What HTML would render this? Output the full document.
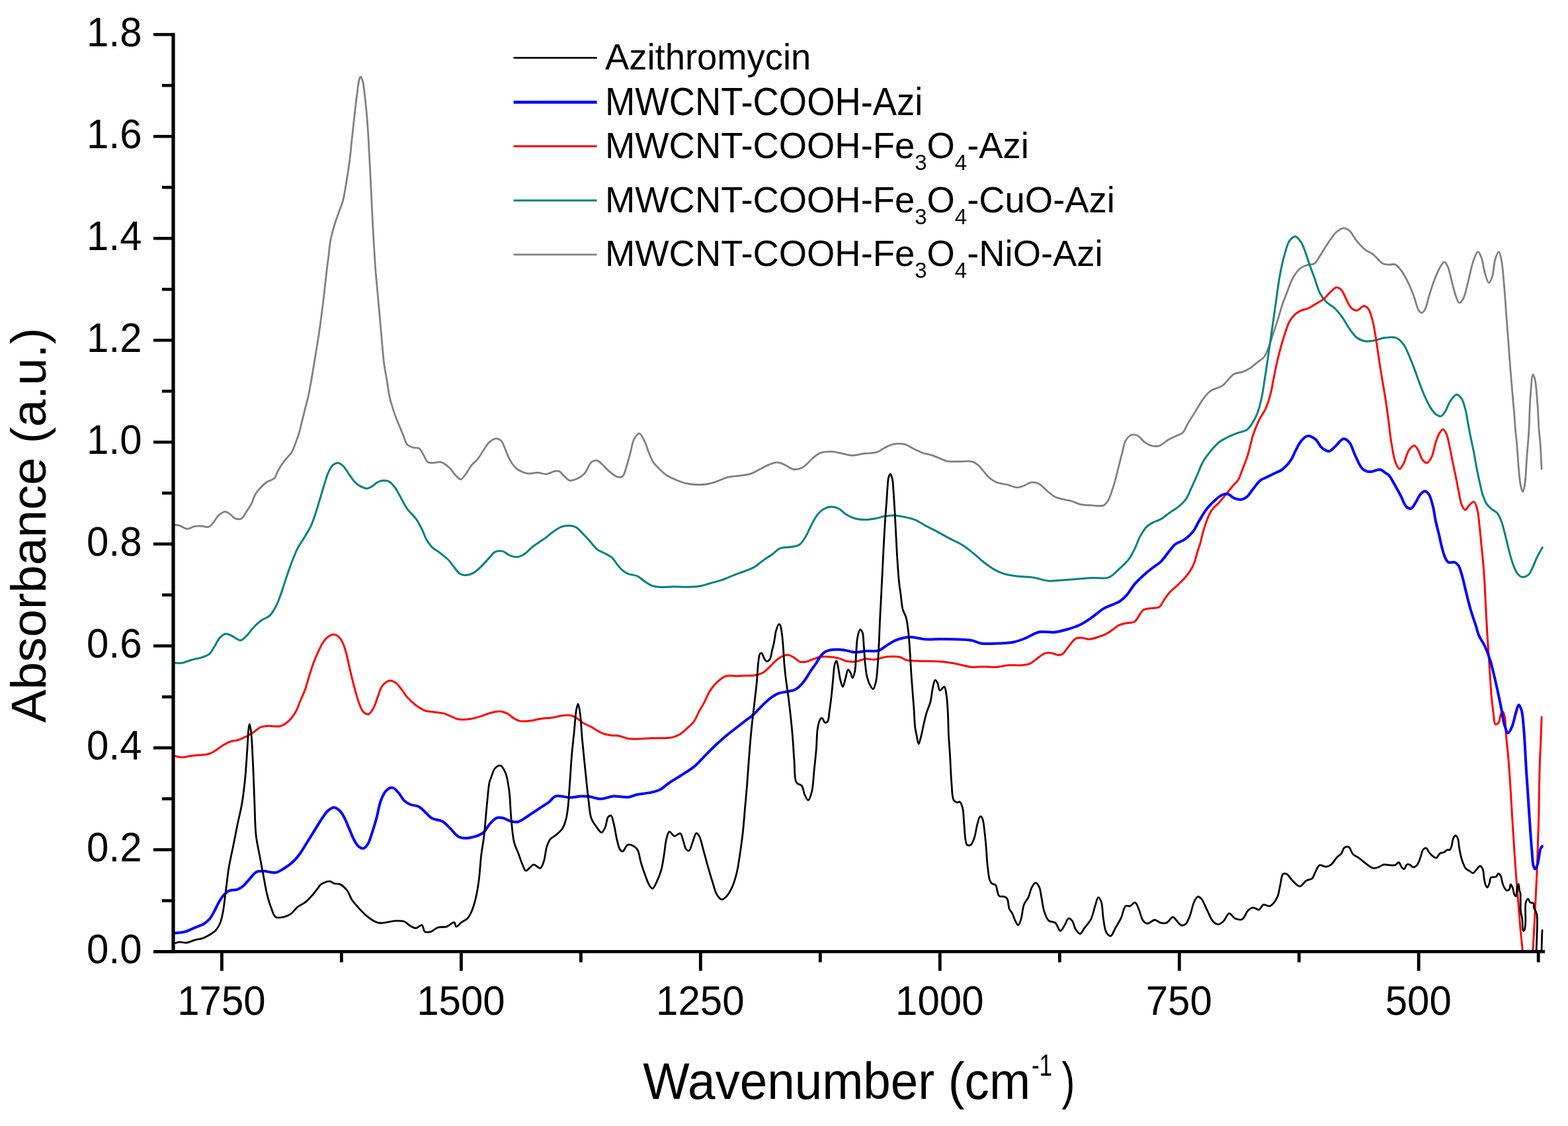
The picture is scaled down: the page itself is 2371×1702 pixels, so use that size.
<!DOCTYPE html>
<html><head><meta charset="utf-8"><title>FTIR spectra</title>
<style>
html,body{margin:0;padding:0;background:#fff;}
svg{display:block;}
text{font-family:"Liberation Sans",Arial,Helvetica,sans-serif;fill:#000;}
</style></head><body>
<svg width="2371" height="1702" viewBox="0 0 2371 1702">
<rect x="0" y="0" width="2371" height="1702" fill="#fff"/>
<defs><clipPath id="plot"><rect x="262.0" y="51.0" width="2074.0" height="1387.4"/></clipPath></defs>

<g clip-path="url(#plot)" fill="none" stroke-linejoin="round" stroke-linecap="round">
<path d="M263.2,793.2C265.8,793.6 268.2,793.5 271.0,794.3C274.7,795.3 279.0,799.2 283.1,799.4C287.1,799.6 291.3,796.0 295.3,795.4C299.0,794.8 302.8,795.2 306.3,795.4C309.4,795.6 312.6,797.3 315.2,796.5C317.7,795.8 319.6,793.4 321.8,791.0C324.7,787.9 327.3,781.8 330.7,778.8C333.7,776.2 337.5,773.3 340.6,773.3C343.4,773.3 345.9,776.0 348.4,777.7C351.1,779.5 353.3,782.9 356.1,783.9C358.8,784.8 362.3,785.2 364.9,783.9C368.0,782.3 370.2,777.0 372.7,773.3C375.3,769.4 378.2,765.4 380.4,761.1C382.6,756.7 383.6,751.5 386.0,747.3C388.4,743.2 391.7,739.4 394.8,736.2C397.6,733.3 400.3,730.7 403.6,728.5C407.0,726.3 411.8,725.9 414.7,723.0C417.9,719.8 418.8,714.1 421.3,709.7C423.9,705.2 427.0,700.7 430.2,696.4C433.6,691.9 438.4,687.8 441.2,683.2C443.8,679.0 445.0,674.5 446.8,669.9C448.7,665.0 450.7,659.8 452.3,654.4C454.0,648.7 455.2,642.6 456.7,636.7C458.2,630.8 459.6,624.9 461.1,619.0C462.6,613.1 464.2,607.5 465.6,601.3C467.2,594.4 468.6,586.9 470.0,579.2C471.5,570.8 472.9,561.5 474.4,552.7C475.9,543.8 477.3,535.1 478.8,526.1C480.3,516.7 481.9,507.3 483.3,497.4C484.8,486.7 486.3,475.6 487.7,464.2C489.2,452.1 490.9,437.4 492.1,426.6C493.0,418.4 493.7,411.6 494.5,405.0C495.2,399.4 495.8,395.4 496.5,389.6C497.5,381.9 498.3,370.9 499.8,363.0C501.0,356.5 502.8,350.6 504.2,345.4C505.4,341.3 506.3,338.3 507.6,334.3C509.2,329.5 511.3,324.0 513.1,318.8C514.9,313.7 517.1,308.8 518.6,303.4C520.1,297.8 520.9,291.8 522.0,285.7C523.2,279.3 524.2,272.6 525.3,265.8C526.4,258.6 527.6,251.6 528.6,243.6C529.8,234.2 530.8,223.0 531.9,212.7C533.0,202.4 534.1,191.8 535.2,181.7C536.3,171.9 537.5,161.4 538.5,153.0C539.3,146.4 540.0,140.9 540.8,135.3C541.5,130.3 542.0,124.5 543.0,121.0C543.6,118.9 544.4,116.0 545.2,116.0C546.2,116.0 547.6,119.9 548.5,123.0C550.1,128.4 550.8,137.8 551.8,146.3C553.0,156.4 554.2,168.4 555.1,179.5C556.0,190.6 556.6,200.8 557.3,212.7C558.1,226.4 558.8,242.2 559.6,256.9C560.3,271.6 561.1,286.4 561.8,301.1C562.5,315.9 563.1,329.8 564.0,345.4C565.0,362.8 566.2,385.2 567.3,400.7C568.1,412.0 568.8,419.2 569.8,430.0C571.0,443.5 572.6,460.9 573.9,475.3C575.1,488.4 576.1,500.6 577.2,512.9C578.3,524.9 579.2,537.4 580.6,548.3C581.8,557.8 583.5,566.0 585.0,574.8C586.5,583.6 587.5,592.9 589.4,601.3C591.2,609.1 593.7,616.5 596.0,623.4C598.1,629.7 600.4,635.4 602.7,641.1C604.9,646.5 607.1,651.4 609.3,656.6C611.5,661.8 612.8,668.8 615.9,672.1C618.3,674.7 621.8,675.6 624.8,676.5C627.7,677.4 631.1,676.1 633.6,677.6C636.5,679.4 638.1,684.2 640.3,687.6C642.6,691.2 644.2,696.8 646.9,698.6C648.8,699.9 650.9,699.6 653.5,699.7C657.2,699.9 662.6,697.5 666.8,698.6C671.5,699.8 676.3,704.0 680.1,707.5C683.6,710.7 685.9,715.5 688.9,718.5C691.4,721.0 694.2,724.9 696.7,724.7C699.4,724.5 701.9,719.5 704.4,716.3C707.4,712.5 710.1,706.9 713.2,703.1C716.0,699.7 719.3,697.6 722.1,694.2C725.2,690.4 727.9,685.3 730.9,681.0C733.8,676.7 736.4,671.5 739.9,668.4C742.9,665.7 746.7,663.0 749.9,662.8C752.6,662.7 755.4,664.0 757.6,666.1C760.5,668.8 762.1,674.8 764.2,679.4C766.5,684.3 768.2,690.2 770.9,694.9C773.4,699.4 776.2,703.9 779.7,707.1C782.9,710.1 787.2,712.2 790.8,713.7C793.8,714.9 796.3,715.7 799.6,715.9C803.6,716.2 808.5,714.3 812.9,714.4C817.3,714.5 821.7,717.0 826.1,716.6C830.6,716.2 835.7,712.6 839.4,712.1C841.9,711.8 843.9,711.7 846.0,712.6C848.4,713.7 850.3,717.0 852.7,719.2C855.4,721.6 858.2,725.6 861.5,726.3C864.8,727.0 869.1,725.2 872.6,723.6C876.4,721.9 880.2,719.4 883.6,715.9C887.8,711.5 890.7,701.2 894.7,698.2C897.2,696.4 899.9,695.6 902.4,696.0C905.1,696.5 907.6,699.3 910.2,701.5C913.2,704.0 915.6,707.5 919.0,710.4C922.9,713.8 928.1,718.9 932.3,720.3C935.4,721.3 938.7,721.9 941.1,720.3C944.5,718.0 945.8,709.5 947.8,703.7C949.9,697.4 951.5,690.4 953.3,683.8C955.1,677.2 956.0,669.0 958.8,663.9C960.9,660.1 964.1,655.0 966.6,655.1C969.3,655.3 972.0,661.8 974.3,666.1C977.0,671.2 978.7,678.2 981.0,683.8C983.1,688.9 984.9,694.0 987.6,698.2C990.1,702.0 993.2,705.0 996.4,708.2C999.8,711.6 1003.4,715.3 1007.5,718.1C1011.6,720.8 1016.1,722.7 1020.8,724.7C1025.7,726.8 1031.0,729.0 1036.2,730.3C1041.3,731.6 1046.5,732.2 1051.7,732.5C1056.9,732.8 1062.1,732.7 1067.2,732.0C1072.4,731.3 1077.4,729.8 1082.7,728.1C1088.5,726.3 1094.4,722.9 1100.4,721.4C1106.2,720.0 1112.2,720.1 1118.1,719.2C1124.0,718.3 1130.4,717.7 1135.7,715.9C1140.6,714.3 1144.6,711.5 1149.0,709.3C1153.4,707.1 1157.8,704.3 1162.3,702.6C1166.6,700.9 1171.3,698.8 1175.5,698.9C1179.4,699.0 1182.8,701.0 1186.6,702.6C1190.9,704.4 1195.5,708.6 1199.9,709.3C1203.7,709.9 1207.7,709.0 1211.1,707.7C1214.4,706.4 1217.1,703.9 1219.9,701.5C1222.9,698.9 1225.5,695.4 1228.7,692.7C1232.1,689.9 1235.6,686.6 1239.8,684.9C1244.3,683.1 1250.1,682.7 1255.3,682.7C1260.5,682.7 1265.5,684.0 1270.8,684.9C1276.5,685.9 1282.6,688.2 1288.5,688.3C1294.4,688.4 1300.0,686.4 1306.1,685.6C1312.5,684.8 1320.6,685.2 1326.1,683.4C1330.5,682.0 1333.2,679.1 1337.1,677.2C1341.3,675.2 1345.5,672.7 1350.4,671.7C1355.8,670.6 1362.8,670.4 1368.1,671.7C1373.0,672.8 1376.9,676.2 1381.3,678.3C1385.7,680.4 1389.9,682.7 1394.6,684.3C1399.5,686.0 1404.5,686.5 1410.1,688.3C1416.9,690.5 1425.1,695.6 1432.2,697.1C1438.3,698.4 1443.8,697.5 1449.9,697.6C1456.3,697.7 1464.6,696.2 1469.8,697.6C1473.5,698.6 1475.8,700.4 1478.6,702.6C1481.8,705.2 1484.5,709.3 1487.5,712.6C1490.4,715.9 1493.0,719.7 1496.3,722.5C1499.6,725.2 1503.2,727.6 1507.4,729.2C1512.0,731.0 1517.8,731.2 1522.9,732.5C1528.1,733.8 1533.6,736.9 1538.3,736.9C1542.3,736.9 1545.8,734.9 1549.4,733.6C1552.9,732.3 1555.8,729.6 1559.4,729.2C1563.2,728.8 1567.8,729.6 1571.5,731.4C1575.6,733.4 1578.7,738.1 1582.6,741.3C1586.7,744.7 1591.4,749.1 1595.8,751.3C1599.5,753.2 1603.0,753.6 1606.9,754.6C1611.1,755.7 1615.8,756.0 1620.2,757.3C1624.7,758.6 1628.6,761.2 1633.4,762.3C1638.8,763.5 1645.2,763.6 1651.1,763.9C1657.0,764.2 1664.6,765.7 1668.8,763.9C1671.9,762.5 1673.6,759.8 1675.5,756.8C1677.8,753.1 1679.2,747.9 1681.0,743.0C1683.0,737.4 1684.9,731.2 1686.6,725.0C1688.4,718.5 1689.9,711.7 1691.6,705.0C1693.4,698.1 1695.2,690.7 1697.0,684.0C1698.7,677.8 1699.3,670.7 1702.1,666.0C1704.4,662.2 1707.8,658.3 1711.0,657.2C1713.7,656.3 1716.9,657.0 1719.8,658.3C1723.6,660.0 1727.0,665.7 1730.9,668.3C1734.4,670.7 1738.1,672.9 1741.9,673.8C1745.5,674.6 1749.3,674.9 1753.0,673.8C1757.4,672.5 1761.9,667.5 1766.2,665.0C1770.0,662.8 1773.6,661.3 1777.3,659.5C1781.0,657.6 1785.3,656.9 1788.4,653.9C1792.1,650.3 1794.0,643.7 1797.2,638.4C1800.6,632.7 1804.6,626.6 1808.3,620.7C1812.0,614.8 1815.4,608.3 1819.3,603.1C1822.8,598.5 1825.9,594.2 1830.4,590.9C1835.3,587.4 1842.5,587.0 1848.1,583.2C1854.4,578.9 1859.9,568.9 1865.8,565.5C1870.2,563.0 1874.9,563.6 1879.0,562.1C1882.9,560.6 1886.5,558.9 1890.1,556.6C1893.9,554.2 1897.5,550.6 1901.1,547.8C1904.5,545.1 1908.3,543.5 1911.1,540.0C1914.5,535.8 1916.5,529.3 1918.8,523.4C1921.3,517.1 1923.3,510.1 1925.5,503.5C1927.7,496.9 1930.0,490.4 1932.1,483.6C1934.4,476.4 1936.4,468.4 1938.7,461.5C1940.8,455.2 1943.0,450.0 1945.4,443.8C1948.1,436.8 1950.6,428.2 1954.2,421.7C1957.4,415.9 1961.1,409.8 1965.3,406.2C1968.7,403.3 1972.5,402.0 1976.3,400.7C1979.9,399.5 1984.2,400.5 1987.4,398.5C1991.0,396.2 1993.2,390.8 1996.2,386.3C1999.8,381.0 2003.3,374.5 2007.3,368.7C2011.4,362.7 2015.9,355.1 2020.6,351.0C2024.1,347.9 2028.1,345.0 2031.6,344.8C2034.7,344.6 2037.7,346.4 2040.5,348.7C2044.4,351.9 2047.5,359.3 2051.5,364.2C2055.6,369.1 2060.3,374.5 2064.8,377.9C2068.4,380.7 2072.0,381.3 2075.8,384.1C2080.7,387.7 2086.5,396.1 2091.3,398.5C2094.4,400.0 2097.0,399.7 2100.0,400.0C2103.2,400.3 2107.0,398.6 2110.1,400.0C2113.9,401.7 2117.1,406.7 2120.3,411.1C2124.0,416.3 2127.4,423.1 2130.4,429.4C2133.5,435.9 2136.1,443.0 2138.5,449.6C2140.8,455.8 2142.1,463.9 2144.6,467.9C2146.1,470.3 2148.0,472.9 2149.7,472.9C2151.4,472.9 2153.2,470.4 2154.7,467.9C2157.3,463.6 2158.6,454.7 2160.8,447.6C2163.3,439.8 2166.0,430.8 2168.9,423.3C2171.5,416.7 2174.1,409.9 2177.0,405.0C2179.2,401.3 2182.0,395.9 2184.1,395.9C2186.0,395.9 2187.7,399.8 2189.2,403.0C2191.7,408.2 2193.3,417.9 2195.3,425.3C2197.3,432.7 2199.2,441.7 2201.4,447.6C2203.0,451.7 2204.4,457.4 2206.4,457.7C2208.2,458.0 2210.7,454.7 2212.5,451.7C2215.6,446.5 2217.2,436.0 2219.6,427.3C2222.3,417.3 2224.6,403.4 2227.7,394.9C2229.9,389.1 2232.5,380.8 2234.8,380.7C2236.6,380.6 2238.4,385.3 2239.9,388.8C2242.2,394.3 2243.0,404.3 2245.0,411.1C2246.8,417.0 2248.9,427.1 2251.1,427.3C2252.7,427.5 2254.7,422.9 2256.1,419.2C2258.6,412.8 2258.9,397.8 2261.2,390.8C2262.7,386.4 2264.8,380.6 2266.3,380.7C2267.9,380.8 2269.2,387.6 2270.3,392.9C2272.3,402.1 2273.2,418.4 2274.4,431.4C2275.6,444.7 2276.4,458.4 2277.4,471.9C2278.4,485.4 2279.5,499.0 2280.5,512.5C2281.5,526.0 2282.5,539.9 2283.5,553.0C2284.5,565.5 2285.5,577.5 2286.5,589.5C2287.5,601.2 2288.7,613.3 2289.6,624.0C2290.4,633.3 2290.8,641.9 2291.5,650.0C2292.1,657.2 2292.9,662.4 2293.6,670.4C2294.6,681.6 2295.5,699.2 2296.7,711.0C2297.6,720.1 2298.2,729.4 2299.7,735.3C2300.6,738.8 2301.9,743.5 2302.8,743.4C2303.9,743.3 2305.0,736.5 2305.8,731.2C2307.3,721.7 2307.8,704.2 2308.8,690.7C2309.8,677.2 2311.1,664.1 2311.9,650.1C2312.8,635.2 2312.8,618.3 2313.9,603.7C2314.9,590.5 2316.1,566.5 2318.0,566.2C2318.9,566.1 2320.1,569.9 2321.0,573.3C2323.0,581.2 2324.1,600.8 2325.1,613.9C2326.1,626.3 2326.3,639.7 2327.1,650.0C2327.7,657.8 2328.5,662.5 2329.1,670.4C2329.9,681.2 2330.4,696.1 2331.1,708.9" stroke="#808080" stroke-width="2.8"/>
<path d="M263.2,1002.1C267.3,1002.1 271.3,1002.8 275.4,1002.1C279.8,1001.4 283.9,999.1 288.7,997.7C294.1,996.1 301.3,995.0 306.3,993.3C310.2,992.0 313.5,991.2 316.3,988.9C319.5,986.3 321.4,981.8 324.0,977.8C326.9,973.3 329.5,966.8 332.9,963.4C335.6,960.7 338.7,958.2 341.7,957.9C344.6,957.6 347.4,959.8 350.6,961.2C354.6,963.0 359.9,968.2 363.8,967.9C367.2,967.6 369.7,964.0 372.7,961.2C376.4,957.7 379.9,952.0 383.7,948.0C387.3,944.3 390.8,940.9 394.8,938.0C398.9,935.0 404.4,933.8 408.1,930.3C411.8,926.8 414.4,921.7 416.9,917.0C419.5,912.1 421.4,907.0 423.5,901.5C425.9,895.3 428.0,888.2 430.2,881.6C432.4,875.0 434.5,868.1 436.8,861.7C438.9,855.6 441.1,849.7 443.4,844.0C445.6,838.7 447.4,833.8 450.1,828.6C453.1,822.8 457.7,816.6 461.1,810.9C464.3,805.6 467.4,800.8 470.0,795.4C472.6,789.8 474.5,783.9 476.6,777.7C478.9,770.9 481.1,763.3 483.3,756.1C485.5,748.8 487.6,741.2 489.9,734.0C492.0,727.2 493.9,719.6 496.5,714.1C498.5,709.8 500.4,705.5 503.2,703.1C505.4,701.1 508.4,699.6 510.9,699.7C513.5,699.8 516.2,702.0 518.6,704.2C521.8,707.1 524.6,712.3 527.5,716.3C530.5,720.4 533.1,725.2 536.3,728.5C539.1,731.3 542.1,733.4 545.2,735.1C548.0,736.6 551.1,738.4 554.0,738.4C557.0,738.4 560.0,736.7 562.9,735.1C566.0,733.4 568.5,730.0 571.7,728.5C574.8,727.1 578.6,726.2 581.7,726.3C584.4,726.4 587.0,727.0 589.4,728.5C592.5,730.5 595.4,734.6 598.2,738.4C601.4,742.9 604.1,748.7 607.1,753.9C610.0,759.1 612.4,764.5 615.9,769.4C619.7,774.6 625.4,779.1 629.2,784.3C632.7,789.2 635.4,794.6 638.0,799.8C640.5,804.9 642.0,810.6 644.7,815.3C647.2,819.7 650.1,824.0 653.5,827.4C656.8,830.6 660.8,832.3 664.6,835.2C668.9,838.5 674.1,842.3 677.9,846.2C681.3,849.7 683.7,853.7 686.7,857.3C689.6,860.8 692.2,865.3 695.5,867.3C698.2,869.0 701.3,869.6 704.4,869.5C707.9,869.4 712.0,868.0 715.5,866.1C719.4,864.0 722.8,860.7 726.5,857.3C730.9,853.3 735.9,847.3 739.9,843.1C743.1,839.8 745.3,835.8 748.7,834.2C751.9,832.7 756.2,832.3 759.8,833.1C763.6,834.0 767.1,838.2 770.9,839.7C774.5,841.1 778.3,842.3 781.9,842.0C785.6,841.7 789.5,839.7 793.0,837.5C796.9,835.1 800.2,830.6 804.0,827.6C807.6,824.7 811.4,822.4 815.1,819.8C818.8,817.2 822.5,814.8 826.1,812.1C829.8,809.3 833.4,805.9 837.2,803.3C840.8,800.8 844.5,798.1 848.3,796.6C851.9,795.2 855.6,794.4 859.3,794.4C863.0,794.4 866.9,794.9 870.4,796.6C874.4,798.6 877.8,803.0 881.4,806.6C885.2,810.4 888.8,814.7 892.5,818.7C896.2,822.8 899.5,827.9 903.5,830.9C907.0,833.5 910.9,834.4 914.6,836.4C918.3,838.5 922.7,840.4 925.7,843.1C928.5,845.6 929.9,848.9 932.3,851.9C935.0,855.2 937.9,859.2 941.1,861.9C943.9,864.3 946.6,866.0 950.0,867.4C953.9,869.0 959.2,868.8 963.3,870.7C967.3,872.5 970.6,876.0 974.3,878.4C978.0,880.8 981.6,883.6 985.4,885.1C989.0,886.5 992.1,886.9 996.4,887.3C1002.5,887.8 1011.1,886.8 1018.5,886.8C1025.9,886.8 1033.5,887.5 1040.7,887.3C1047.5,887.1 1054.6,886.6 1060.5,885.5C1065.4,884.6 1069.1,883.1 1073.8,881.8C1079.3,880.2 1085.7,878.7 1091.5,876.7C1097.5,874.7 1103.3,871.9 1109.2,869.6C1115.1,867.3 1121.4,865.2 1126.9,863.0C1131.7,861.1 1135.9,859.9 1140.2,857.4C1144.8,854.8 1148.9,850.7 1153.4,847.5C1157.8,844.4 1162.3,841.7 1166.7,838.6C1171.2,835.4 1175.0,830.7 1180.0,828.7C1185.2,826.6 1192.5,827.6 1197.7,826.5C1201.9,825.6 1205.6,825.4 1208.8,823.2C1212.4,820.8 1215.0,816.4 1217.7,812.1C1220.9,807.0 1223.5,800.1 1226.5,794.4C1229.4,789.0 1231.9,783.3 1235.4,778.9C1238.6,774.9 1242.4,771.1 1246.4,769.0C1249.9,767.1 1253.8,766.1 1257.5,766.1C1261.2,766.1 1265.1,767.2 1268.6,769.0C1272.5,771.0 1275.6,775.3 1279.6,777.8C1283.7,780.3 1288.2,782.5 1292.9,783.8C1297.8,785.1 1303.2,785.6 1308.4,785.6C1313.5,785.6 1318.9,784.7 1323.8,783.8C1328.4,783.0 1332.6,781.3 1337.1,780.5C1341.5,779.7 1345.8,778.9 1350.4,778.9C1355.4,779.0 1360.6,780.0 1365.9,781.1C1371.6,782.2 1378.0,783.4 1383.5,785.6C1389.0,787.8 1393.6,791.5 1399.0,794.4C1404.7,797.4 1410.8,800.2 1416.7,803.3C1422.6,806.4 1428.3,810.0 1434.4,813.2C1440.8,816.6 1448.0,819.3 1454.3,823.2C1460.6,827.1 1466.4,831.9 1472.0,836.4C1477.4,840.7 1482.0,845.5 1487.5,849.7C1493.1,854.0 1499.6,858.8 1505.2,861.9C1509.8,864.4 1513.6,866.0 1518.4,867.4C1523.8,869.0 1529.6,869.8 1536.1,870.7C1544.0,871.8 1554.3,871.6 1562.7,872.9C1570.5,874.1 1577.2,877.3 1584.8,878.0C1592.7,878.7 1601.2,877.2 1609.1,876.7C1616.6,876.2 1623.8,875.6 1631.2,875.1C1638.6,874.6 1646.1,873.8 1653.3,873.6C1660.1,873.4 1668.4,874.5 1673.2,873.6C1676.1,873.1 1677.6,872.5 1680.0,871.0C1683.4,868.9 1687.2,864.9 1691.1,861.2C1695.9,856.7 1702.3,851.2 1706.5,845.8C1710.3,840.9 1712.6,835.9 1715.4,830.3C1718.5,824.2 1721.0,816.2 1724.2,810.4C1727.0,805.4 1729.6,800.7 1733.1,797.1C1736.3,793.8 1740.3,791.5 1744.1,789.4C1747.7,787.5 1751.5,787.0 1755.2,784.9C1759.6,782.4 1764.0,778.2 1768.5,775.0C1772.9,771.9 1777.6,769.4 1781.7,766.1C1785.7,762.8 1789.6,759.5 1792.8,755.1C1796.4,750.1 1798.7,743.5 1801.6,737.4C1804.6,731.0 1807.5,724.1 1810.5,717.5C1813.4,710.9 1815.8,703.7 1819.3,697.6C1822.5,691.9 1826.4,687.0 1830.4,682.1C1834.5,677.2 1838.9,672.0 1843.6,668.3C1847.8,665.0 1852.4,662.8 1856.9,660.6C1861.3,658.4 1865.6,656.8 1870.2,655.0C1875.1,653.1 1881.9,652.1 1885.7,649.5C1888.7,647.4 1890.1,645.0 1892.3,641.8C1895.3,637.4 1898.6,631.4 1901.1,625.2C1904.0,618.0 1906.0,609.1 1907.8,600.8C1909.7,592.2 1910.8,583.3 1912.2,574.3C1913.7,564.9 1915.2,555.4 1916.6,545.6C1918.1,535.5 1919.5,524.9 1921.0,514.6C1922.5,504.3 1924.0,493.9 1925.5,483.6C1927.0,473.3 1928.4,463.0 1929.9,452.7C1931.4,442.4 1932.7,431.1 1934.3,421.7C1935.7,413.7 1937.1,406.5 1938.7,399.6C1940.1,393.4 1941.4,387.8 1943.2,381.9C1945.1,375.9 1946.7,368.4 1949.8,364.2C1952.2,361.0 1955.7,357.4 1958.6,357.6C1961.7,357.8 1965.0,362.8 1967.5,366.4C1970.4,370.6 1972.0,376.4 1974.1,381.9C1976.5,388.1 1978.5,395.4 1980.8,401.8C1983.0,407.9 1985.1,413.1 1987.4,419.5C1990.1,427.0 1992.7,437.3 1996.2,443.8C1998.9,448.8 2001.5,452.4 2005.1,456.0C2008.8,459.8 2014.3,462.2 2018.3,466.0C2022.4,469.9 2025.9,474.3 2029.4,479.2C2033.3,484.5 2036.6,491.5 2040.5,496.9C2044.0,501.8 2047.2,507.0 2051.5,510.2C2055.4,513.1 2060.3,515.0 2064.8,515.7C2069.2,516.4 2073.5,515.4 2078.1,514.6C2083.1,513.8 2088.1,511.3 2093.5,510.6C2099.2,509.9 2106.3,508.7 2111.2,510.6C2115.7,512.3 2119.2,516.5 2122.3,520.6C2125.7,525.1 2127.8,531.0 2130.4,536.8C2133.2,543.1 2135.9,550.2 2138.5,557.1C2141.3,564.3 2143.8,572.2 2146.6,579.4C2149.2,586.3 2151.8,593.4 2154.7,599.7C2157.3,605.5 2159.9,611.3 2162.9,615.9C2165.4,619.8 2168.0,623.8 2171.0,626.0C2173.5,627.8 2176.8,629.7 2179.1,629.1C2181.5,628.5 2183.2,625.0 2185.2,622.0C2188.0,617.8 2190.1,610.2 2193.3,605.8C2196.0,602.0 2199.5,596.8 2202.4,596.6C2204.8,596.4 2207.5,599.1 2209.5,601.7C2212.3,605.3 2213.9,611.9 2215.6,617.9C2217.6,624.8 2218.6,633.6 2220.0,641.0C2221.3,647.7 2222.3,653.5 2223.7,660.3C2225.2,667.9 2227.3,676.7 2228.8,684.6C2230.3,692.2 2231.3,699.3 2232.8,706.9C2234.3,714.8 2236.2,723.9 2237.9,731.2C2239.3,737.2 2240.2,742.3 2241.9,747.5C2243.6,752.5 2245.4,757.8 2248.0,761.7C2250.3,765.0 2253.3,767.4 2256.1,769.8C2258.7,772.1 2261.9,773.1 2264.2,775.8C2266.8,778.9 2268.6,783.7 2270.3,788.0C2272.0,792.5 2273.1,797.3 2274.4,802.2C2275.8,807.4 2277.0,812.7 2278.4,818.4C2280.0,824.8 2281.7,832.3 2283.5,838.7C2285.1,844.4 2286.6,850.0 2288.6,854.9C2290.4,859.3 2292.1,864.1 2294.6,867.1C2296.6,869.5 2299.1,871.8 2301.7,872.2C2304.5,872.6 2308.4,871.1 2310.9,869.1C2313.6,866.9 2315.1,862.7 2317.0,859.0C2319.2,854.7 2320.7,849.7 2323.0,844.8C2325.6,839.3 2329.1,833.3 2332.2,827.6" stroke="#008080" stroke-width="3.0"/>
<path d="M263.2,1142.6C267.3,1143.3 271.2,1144.8 275.4,1144.8C279.7,1144.8 284.3,1143.2 288.7,1142.6C293.1,1142.0 297.5,1141.8 301.9,1141.3C306.3,1140.8 311.1,1141.0 315.2,1139.8C319.2,1138.6 322.6,1136.4 326.2,1134.2C330.0,1131.9 333.5,1128.7 337.3,1126.5C340.9,1124.4 344.6,1122.3 348.4,1121.0C352.0,1119.8 355.6,1119.9 359.4,1118.7C363.7,1117.4 368.5,1115.3 372.7,1113.2C376.6,1111.2 380.1,1109.0 383.7,1106.6C387.4,1104.2 390.9,1100.3 394.8,1098.8C398.3,1097.4 401.8,1097.5 405.9,1097.3C411.1,1097.0 418.7,1098.8 423.5,1097.7C427.1,1096.9 429.4,1095.6 432.4,1093.3C436.7,1090.0 442.1,1084.0 445.7,1078.4C449.5,1072.5 451.8,1064.7 454.5,1058.5C456.9,1053.0 459.0,1048.8 461.1,1043.1C463.5,1036.4 465.5,1028.1 467.8,1020.9C470.0,1014.1 472.1,1007.2 474.4,1001.0C476.5,995.5 478.7,990.5 481.0,985.6C483.2,981.0 485.0,976.3 487.7,972.3C490.2,968.5 493.4,964.5 496.5,962.3C499.0,960.5 501.7,959.0 504.3,959.0C506.9,959.0 509.8,960.4 512.0,962.3C514.7,964.5 516.7,968.3 518.6,972.3C521.0,977.2 522.5,983.6 524.2,990.0C526.2,997.4 527.7,1006.0 529.7,1014.3C531.8,1023.0 534.0,1032.4 536.3,1040.8C538.4,1048.6 540.5,1056.6 543.0,1063.0C545.0,1068.1 546.7,1073.5 549.6,1076.2C551.8,1078.3 554.9,1080.1 557.3,1079.5C560.2,1078.8 562.9,1073.6 565.1,1069.6C567.8,1064.7 569.4,1057.6 571.7,1051.9C573.8,1046.5 575.1,1040.4 578.3,1036.4C581.2,1032.9 585.8,1029.1 589.4,1028.7C592.4,1028.3 595.5,1030.1 598.2,1032.0C601.5,1034.2 604.2,1038.3 607.1,1041.9C610.1,1045.7 612.4,1050.2 615.9,1054.1C619.7,1058.4 624.6,1062.9 629.2,1066.3C633.5,1069.4 637.9,1072.4 642.5,1074.0C646.8,1075.5 651.1,1075.5 655.7,1076.2C660.7,1077.0 666.5,1077.1 671.2,1078.4C675.3,1079.5 678.6,1081.4 682.3,1082.9C686.0,1084.4 689.1,1086.6 693.3,1087.3C698.4,1088.2 705.3,1087.6 711.0,1086.8C716.4,1086.1 721.4,1084.4 726.5,1082.9C731.7,1081.3 737.1,1078.8 742.1,1077.5C746.7,1076.3 751.2,1075.1 755.4,1075.3C759.3,1075.5 762.9,1076.6 766.4,1078.2C770.3,1080.0 773.9,1084.0 777.5,1086.0C780.5,1087.7 782.8,1089.2 786.3,1089.9C791.1,1090.8 798.5,1090.0 804.0,1089.3C808.8,1088.7 812.5,1087.1 817.3,1086.4C822.8,1085.6 829.5,1085.6 835.0,1084.8C839.8,1084.1 843.7,1082.6 848.3,1082.0C853.2,1081.4 859.4,1080.5 863.7,1081.5C867.2,1082.3 869.7,1084.2 872.6,1086.0C875.6,1087.9 878.1,1090.5 881.4,1092.6C885.3,1095.0 890.1,1096.8 894.7,1099.2C899.7,1101.9 905.1,1106.0 910.2,1108.1C914.7,1109.9 919.2,1110.8 923.5,1111.4C927.3,1112.0 930.6,1111.3 934.5,1112.0C939.3,1112.8 945.0,1115.7 950.0,1116.5C954.6,1117.2 958.3,1116.9 963.3,1116.9C969.7,1116.8 977.6,1116.1 985.4,1115.8C994.3,1115.5 1006.4,1116.5 1014.1,1115.1C1019.5,1114.1 1023.4,1112.6 1027.4,1110.3C1031.5,1108.0 1034.8,1104.6 1038.4,1101.4C1042.2,1098.0 1046.5,1094.5 1049.5,1090.4C1052.4,1086.4 1053.7,1081.7 1056.1,1077.1C1058.8,1072.1 1062.1,1067.0 1065.0,1061.6C1068.0,1055.9 1070.3,1049.2 1073.8,1043.9C1077.0,1039.0 1080.7,1034.4 1084.9,1030.7C1088.9,1027.1 1093.4,1023.2 1098.2,1021.8C1102.9,1020.4 1108.6,1022.0 1113.5,1021.9C1118.1,1021.8 1122.3,1021.4 1127.0,1021.2C1132.2,1021.0 1138.4,1021.5 1143.2,1020.5C1147.3,1019.7 1151.0,1018.2 1154.1,1016.5C1156.7,1015.0 1158.6,1013.1 1160.8,1011.1C1163.1,1009.0 1165.3,1006.6 1167.6,1004.3C1169.8,1002.1 1171.9,999.6 1174.3,997.6C1176.8,995.6 1179.5,993.5 1182.4,992.2C1185.3,991.0 1188.9,989.8 1191.9,990.1C1194.8,990.4 1197.3,992.0 1200.0,993.5C1203.1,995.3 1206.2,999.2 1209.5,1000.3C1212.5,1001.3 1215.8,1000.8 1218.9,1000.3C1222.1,999.7 1225.1,998.0 1228.4,996.9C1231.9,995.7 1235.3,993.9 1239.2,993.2C1243.4,992.4 1248.1,992.5 1252.7,992.8C1257.6,993.1 1262.8,993.7 1267.6,994.9C1272.3,996.0 1276.4,998.8 1281.1,999.6C1285.9,1000.4 1291.3,1000.3 1295.9,999.6C1300.2,999.0 1303.8,996.4 1308.1,995.9C1312.8,995.4 1317.9,997.3 1323.0,996.9C1328.6,996.4 1334.4,993.4 1340.5,992.8C1347.0,992.1 1355.4,992.0 1360.8,993.2C1364.7,994.1 1366.7,996.6 1370.3,997.6C1374.7,998.8 1380.0,998.8 1385.8,999.1C1393.0,999.5 1402.6,999.2 1410.1,999.5C1416.5,999.8 1422.1,1000.0 1427.8,1000.6C1433.1,1001.1 1438.4,1001.9 1443.3,1002.8C1447.9,1003.6 1452.1,1004.8 1456.5,1005.7C1460.9,1006.6 1465.0,1008.0 1469.8,1008.4C1475.3,1008.8 1481.6,1007.7 1487.5,1007.7C1493.4,1007.7 1499.1,1008.7 1505.2,1008.4C1511.7,1008.1 1518.4,1006.0 1525.1,1005.5C1531.7,1005.0 1539.1,1006.1 1545.0,1005.5C1549.9,1005.0 1554.4,1004.5 1558.2,1002.8C1561.7,1001.3 1563.8,998.5 1567.1,996.2C1571.1,993.4 1576.0,988.7 1580.4,987.4C1584.1,986.3 1588.0,986.9 1591.4,987.4C1594.6,987.9 1597.5,990.1 1600.3,990.2C1602.7,990.3 1604.8,989.9 1606.9,988.5C1610.0,986.5 1612.5,981.1 1615.7,977.4C1619.1,973.4 1622.9,967.2 1626.8,965.2C1629.6,963.7 1632.5,964.0 1635.6,964.1C1639.1,964.2 1642.8,966.4 1646.7,966.3C1650.9,966.2 1655.6,964.4 1660.0,963.0C1664.5,961.6 1668.9,960.2 1673.2,957.9C1677.8,955.5 1683.2,951.0 1686.5,948.7C1688.4,947.3 1689.1,946.3 1691.1,945.3C1693.9,943.9 1698.2,942.9 1702.1,942.0C1706.3,941.0 1711.4,942.1 1715.4,939.7C1720.5,936.6 1724.2,925.1 1728.7,922.1C1731.6,920.2 1734.1,920.5 1737.5,919.8C1741.9,918.9 1749.2,920.0 1753.0,917.6C1756.3,915.5 1757.2,911.1 1759.6,907.7C1762.3,903.8 1765.2,899.2 1768.5,895.5C1771.8,891.8 1775.9,889.0 1779.5,885.6C1783.2,882.1 1787.2,878.3 1790.6,874.5C1793.8,870.9 1796.9,867.4 1799.4,863.4C1802.0,859.3 1804.2,854.9 1806.0,850.2C1807.9,845.3 1809.0,839.7 1810.5,834.7C1811.9,830.1 1813.5,826.2 1814.9,821.4C1816.5,815.9 1817.5,809.7 1819.3,803.7C1821.2,797.2 1823.6,789.7 1826.0,783.8C1828.1,778.9 1829.7,774.6 1832.6,770.6C1835.6,766.5 1840.0,763.4 1843.6,759.5C1847.4,755.3 1851.2,750.4 1854.7,746.2C1857.8,742.4 1860.5,738.7 1863.5,735.2C1866.4,731.7 1869.9,729.2 1872.4,725.2C1875.3,720.6 1876.8,714.3 1879.0,708.7C1881.3,702.9 1883.8,696.7 1885.7,691.0C1887.5,685.7 1888.7,680.8 1890.1,675.5C1891.6,669.9 1892.5,664.3 1894.5,658.3C1896.8,651.3 1900.0,643.3 1903.4,636.2C1906.7,629.3 1911.4,623.1 1914.4,616.3C1917.2,609.8 1919.2,603.3 1921.0,596.4C1922.9,589.3 1924.0,581.7 1925.5,574.3C1927.0,566.9 1928.2,559.9 1929.9,552.2C1931.8,543.7 1934.2,534.1 1936.5,525.7C1938.6,517.9 1940.9,510.4 1943.2,503.5C1945.3,497.3 1947.0,490.9 1949.8,485.9C1952.3,481.6 1955.4,477.7 1958.6,474.8C1961.4,472.3 1964.3,470.8 1967.5,469.3C1970.9,467.8 1974.9,467.6 1978.5,466.0C1982.3,464.3 1985.9,461.5 1989.6,459.3C1993.3,457.1 1997.2,455.5 2000.7,452.7C2004.6,449.7 2008.1,444.8 2011.7,441.6C2014.7,438.9 2017.6,434.9 2020.6,434.6C2023.2,434.3 2026.2,436.3 2028.3,438.3C2030.7,440.6 2031.8,444.5 2033.8,448.3C2036.4,453.1 2039.1,461.3 2042.7,464.8C2045.3,467.3 2048.4,469.4 2051.5,469.3C2055.0,469.2 2059.4,462.5 2062.6,462.6C2065.1,462.7 2067.3,464.6 2069.2,467.1C2072.2,471.0 2074.0,479.2 2075.8,485.9C2077.8,493.4 2079.0,502.3 2080.3,510.2C2081.6,517.7 2082.5,524.9 2083.6,532.3C2084.7,539.7 2085.7,546.7 2086.9,554.4C2088.2,562.9 2089.8,572.1 2091.3,581.0C2092.8,589.8 2094.3,598.2 2095.7,607.5C2097.3,617.9 2098.8,629.9 2100.2,640.7C2101.6,650.9 2102.4,660.6 2104.1,670.4C2105.7,680.0 2107.4,691.9 2110.1,698.8C2111.8,703.2 2114.1,708.8 2116.2,708.9C2118.2,709.0 2120.3,704.3 2122.3,700.8C2125.2,695.7 2127.0,685.4 2130.4,680.6C2132.8,677.3 2136.1,673.3 2138.5,673.5C2140.8,673.7 2142.8,677.7 2144.6,680.6C2147.0,684.4 2148.0,691.4 2150.7,694.7C2152.7,697.2 2155.6,700.1 2157.8,699.8C2160.4,699.4 2162.9,694.7 2164.9,690.7C2167.7,685.1 2168.7,674.9 2171.0,668.4C2172.8,663.1 2174.7,657.6 2177.0,654.2C2178.6,651.9 2180.5,649.0 2182.1,649.1C2183.9,649.2 2185.7,653.0 2187.2,656.2C2189.5,661.1 2190.8,669.7 2192.3,676.5C2193.8,683.2 2194.9,689.7 2196.3,696.8C2197.9,704.5 2199.8,713.4 2201.4,721.1C2202.8,728.2 2203.9,734.5 2205.4,741.4C2206.9,748.7 2208.2,758.5 2210.5,763.7C2212.0,766.9 2213.8,770.7 2215.6,770.8C2217.5,770.9 2219.5,765.8 2221.7,763.7C2223.9,761.7 2226.9,758.1 2228.8,758.6C2231.1,759.2 2232.5,765.3 2233.8,769.8C2235.5,775.9 2235.9,784.1 2236.9,792.1C2238.0,801.4 2238.9,812.4 2239.9,822.5C2240.9,832.6 2242.0,842.8 2242.9,852.9C2243.7,863.0 2244.4,872.4 2245.0,883.3C2245.7,895.9 2246.3,910.8 2247.0,923.9C2247.6,936.3 2248.3,948.5 2249.0,960.0C2249.7,970.6 2250.4,980.3 2251.1,990.4C2251.8,1000.5 2252.4,1010.7 2253.1,1020.8C2253.8,1030.9 2254.2,1041.4 2255.1,1051.2C2255.9,1060.3 2257.1,1069.8 2258.2,1077.6C2259.1,1084.0 2259.0,1093.8 2261.2,1094.8C2262.5,1095.4 2265.0,1093.5 2266.3,1091.8C2268.2,1089.3 2267.9,1082.5 2269.3,1079.6C2270.2,1077.8 2271.4,1075.5 2272.3,1075.6C2273.5,1075.8 2274.6,1080.1 2275.4,1083.7C2276.8,1090.2 2276.6,1102.5 2277.4,1112.1C2278.3,1122.1 2279.5,1131.6 2280.5,1142.5C2281.6,1155.0 2282.5,1168.7 2283.5,1183.0C2284.6,1198.9 2285.5,1217.1 2286.5,1233.7C2287.5,1249.6 2288.5,1264.9 2289.5,1280.5C2290.6,1296.2 2291.6,1312.6 2292.8,1327.8C2293.9,1341.9 2295.1,1355.5 2296.2,1368.4C2297.2,1380.2 2297.9,1390.8 2298.9,1402.2C2299.9,1413.8 2301.3,1425.8 2302.3,1437.3C2303.3,1448.4 2300.8,1466.1 2305.0,1470.0C2307.3,1472.1 2312.7,1472.1 2315.0,1470.0C2319.2,1466.1 2317.0,1448.4 2317.8,1437.3C2318.6,1425.8 2319.2,1414.3 2319.9,1402.2C2320.6,1389.2 2321.2,1375.1 2321.9,1361.6C2322.6,1348.1 2323.3,1334.6 2323.9,1321.1C2324.5,1307.6 2324.8,1294.0 2325.3,1280.5C2325.7,1267.0 2326.2,1255.7 2326.6,1240.0C2327.2,1218.4 2327.4,1185.8 2328.1,1162.8C2328.6,1144.1 2329.6,1126.6 2330.1,1112.1C2330.5,1101.3 2330.8,1093.2 2331.1,1083.7" stroke="#ff0000" stroke-width="3.0"/>
<path d="M263.2,1410.7C268.7,1409.9 274.5,1409.9 279.8,1408.4C285.2,1406.9 290.3,1403.9 295.3,1401.8C299.9,1399.9 304.8,1398.7 308.6,1396.3C312.0,1394.1 314.9,1391.5 317.4,1388.5C320.0,1385.3 321.9,1381.4 324.0,1377.5C326.3,1373.3 328.3,1368.2 330.7,1364.2C332.8,1360.6 334.7,1357.3 337.3,1354.3C339.9,1351.4 342.6,1348.2 346.1,1346.5C349.9,1344.7 355.5,1345.7 359.4,1344.3C362.8,1343.0 365.5,1341.2 368.3,1338.8C371.5,1336.1 373.9,1332.2 377.1,1328.8C380.5,1325.2 384.1,1319.7 388.2,1317.8C391.6,1316.2 395.1,1316.7 399.2,1316.7C404.4,1316.8 411.5,1319.8 416.9,1318.9C421.8,1318.1 425.9,1314.9 430.2,1312.2C434.7,1309.4 439.4,1306.1 443.4,1302.3C447.5,1298.4 451.0,1293.9 454.5,1289.0C458.4,1283.6 461.9,1277.2 465.6,1271.3C469.3,1265.4 472.9,1259.5 476.6,1253.6C480.3,1247.7 484.1,1241.1 487.7,1236.0C490.7,1231.8 493.2,1227.5 496.5,1224.9C499.2,1222.7 502.5,1220.4 505.4,1220.5C508.4,1220.6 511.7,1223.6 514.2,1226.0C516.9,1228.6 518.7,1232.2 520.8,1236.0C523.2,1240.5 525.1,1245.9 527.5,1251.4C530.2,1257.6 533.3,1266.1 536.3,1271.3C538.5,1275.0 540.5,1278.4 543.0,1280.2C545.0,1281.6 547.5,1282.9 549.6,1282.4C552.0,1281.8 554.3,1278.8 556.2,1275.8C559.0,1271.5 560.8,1264.4 562.9,1258.1C565.2,1251.2 567.4,1243.7 569.5,1236.0C571.8,1227.6 573.1,1216.9 576.1,1209.4C578.5,1203.3 581.4,1197.0 585.0,1193.9C587.6,1191.7 591.0,1190.1 593.8,1190.6C596.9,1191.2 599.9,1195.3 602.7,1198.4C605.8,1201.8 608.2,1207.5 611.5,1210.5C614.2,1213.0 617.0,1214.6 620.4,1216.0C624.3,1217.6 629.6,1217.3 633.6,1219.4C637.8,1221.6 641.2,1226.2 644.7,1229.3C647.8,1232.1 649.9,1235.1 653.5,1237.1C657.7,1239.4 664.5,1239.0 669.0,1241.5C673.3,1243.9 676.3,1247.8 680.1,1251.4C684.4,1255.4 688.7,1262.2 693.3,1264.7C696.9,1266.6 700.5,1266.8 704.4,1266.9C708.6,1267.0 713.4,1266.1 717.7,1264.7C722.3,1263.3 727.4,1261.5 731.1,1258.4C734.8,1255.3 736.6,1250.0 739.9,1246.3C743.2,1242.6 747.2,1237.7 751.0,1236.3C753.9,1235.2 756.8,1235.7 759.8,1236.3C763.4,1237.0 767.1,1239.8 770.9,1240.8C774.5,1241.8 778.5,1243.0 781.9,1242.5C785.1,1242.1 787.6,1240.3 790.8,1238.5C794.9,1236.3 799.6,1232.6 804.0,1229.7C808.4,1226.7 812.9,1223.8 817.3,1220.8C821.7,1217.9 826.7,1215.1 830.6,1212.0C834.0,1209.3 836.2,1204.9 839.4,1203.6C842.2,1202.5 845.1,1203.4 848.3,1203.6C852.3,1203.9 856.8,1205.3 861.5,1205.4C867.0,1205.5 873.7,1203.7 879.2,1203.6C883.9,1203.5 887.9,1203.7 892.5,1204.3C897.5,1205.0 902.5,1207.6 908.0,1207.6C914.2,1207.6 921.1,1204.1 927.9,1203.6C935.0,1203.1 943.6,1205.6 950.0,1204.9C955.0,1204.3 958.3,1202.1 963.3,1201.0C969.7,1199.6 979.0,1199.1 985.4,1197.6C990.4,1196.4 994.4,1195.4 998.6,1193.2C1003.2,1190.8 1007.1,1186.6 1011.9,1183.3C1017.3,1179.6 1023.6,1176.1 1029.6,1172.2C1036.1,1168.0 1043.5,1163.8 1049.5,1158.9C1055.2,1154.2 1059.7,1148.7 1065.0,1143.4C1070.7,1137.7 1076.7,1131.4 1082.7,1125.8C1088.5,1120.4 1094.9,1114.9 1100.4,1110.3C1105.0,1106.4 1109.1,1103.4 1113.5,1100.0C1118.0,1096.5 1122.7,1092.8 1127.0,1089.5C1130.8,1086.6 1134.4,1084.3 1137.8,1081.4C1141.2,1078.5 1144.1,1075.1 1147.3,1071.9C1150.5,1068.7 1153.6,1065.4 1156.8,1062.4C1159.9,1059.5 1162.8,1056.7 1166.2,1054.3C1169.6,1051.9 1173.2,1049.7 1177.0,1048.2C1180.8,1046.7 1185.0,1046.5 1189.2,1045.5C1193.6,1044.5 1198.8,1044.2 1202.7,1042.2C1206.4,1040.3 1209.3,1037.2 1212.2,1034.1C1215.2,1030.9 1217.8,1026.9 1220.3,1023.2C1222.7,1019.6 1224.7,1015.8 1227.0,1012.4C1229.2,1009.1 1231.6,1006.3 1233.8,1003.0C1236.1,999.6 1238.1,995.3 1240.5,992.2C1242.6,989.5 1244.4,987.1 1247.3,985.4C1250.6,983.5 1255.1,982.5 1259.5,982.0C1264.5,981.4 1270.2,981.8 1275.7,982.4C1281.5,983.1 1287.4,985.9 1293.2,986.1C1298.7,986.3 1303.9,984.5 1309.5,984.1C1315.6,983.6 1323.0,985.1 1328.4,983.4C1333.1,982.0 1336.3,978.4 1340.5,975.9C1344.9,973.2 1349.7,969.7 1354.1,967.8C1357.8,966.2 1361.1,965.3 1364.9,964.5C1369.1,963.6 1373.4,963.0 1378.4,963.1C1384.6,963.3 1392.0,965.8 1399.0,966.3C1406.2,966.8 1413.7,965.9 1421.1,965.9C1428.5,965.9 1435.6,966.0 1443.3,966.3C1451.7,966.7 1462.5,966.7 1469.8,968.1C1475.1,969.1 1477.8,971.7 1483.1,972.5C1490.3,973.7 1501.2,972.8 1509.6,972.5C1517.3,972.2 1524.8,972.1 1531.7,970.8C1538.0,969.6 1543.2,967.5 1549.4,965.2C1556.4,962.5 1564.0,956.8 1571.5,955.3C1578.7,953.8 1586.7,956.4 1593.6,955.7C1599.9,955.1 1605.1,953.7 1611.3,952.0C1618.3,950.0 1626.6,947.5 1633.4,944.2C1639.8,941.1 1645.3,937.2 1651.1,933.2C1657.1,929.1 1662.7,923.5 1668.8,919.9C1674.5,916.6 1682.0,914.3 1686.5,912.2C1689.3,910.9 1690.9,910.5 1693.3,908.8C1696.7,906.5 1700.8,902.7 1704.3,898.8C1708.2,894.4 1711.3,888.2 1715.4,883.4C1719.5,878.6 1724.2,874.2 1728.7,870.1C1733.0,866.1 1737.4,862.5 1741.9,859.0C1746.3,855.5 1751.0,853.1 1755.2,849.1C1759.9,844.5 1764.5,837.3 1768.5,832.5C1771.7,828.7 1773.8,825.2 1777.3,822.5C1781.0,819.6 1786.4,818.8 1790.6,815.9C1795.3,812.7 1800.1,808.3 1803.8,803.7C1807.5,799.1 1809.5,793.6 1812.7,788.3C1816.1,782.6 1819.8,775.8 1823.7,770.6C1827.2,766.0 1830.8,762.1 1834.8,758.4C1838.9,754.6 1843.9,749.8 1848.1,748.0C1851.2,746.7 1854.1,746.0 1856.9,746.7C1860.0,747.4 1862.5,751.5 1865.8,752.9C1869.1,754.3 1873.4,755.5 1876.8,755.1C1880.0,754.7 1883.0,752.9 1885.7,750.7C1889.0,748.1 1891.4,743.4 1894.5,739.6C1898.0,735.3 1901.5,729.5 1905.6,726.3C1909.0,723.6 1912.8,722.7 1916.6,720.8C1920.8,718.7 1925.9,716.2 1929.9,714.2C1933.1,712.6 1935.7,712.1 1938.7,709.8C1943.0,706.6 1948.6,700.4 1952.0,695.4C1955.0,691.1 1956.2,686.7 1958.6,682.1C1961.3,677.1 1964.0,670.6 1967.5,666.6C1970.4,663.3 1973.8,659.4 1977.4,659.0C1981.1,658.6 1986.2,661.6 1989.6,664.4C1993.2,667.4 1994.9,673.6 1998.4,676.6C2001.6,679.3 2006.1,682.4 2009.5,682.1C2012.7,681.8 2015.1,678.1 2018.3,675.5C2022.4,672.1 2027.5,663.7 2031.6,663.3C2034.7,663.0 2037.9,665.8 2040.5,668.8C2044.2,673.1 2046.0,682.1 2049.3,688.7C2052.6,695.4 2055.9,704.7 2060.4,708.7C2063.6,711.6 2067.4,712.8 2071.4,713.1C2076.1,713.5 2082.6,709.0 2086.9,709.8C2090.4,710.4 2093.3,713.8 2095.7,715.3C2097.4,716.4 2098.5,716.6 2100.0,718.1C2102.6,720.7 2105.3,726.4 2108.1,731.2C2111.3,736.8 2115.1,743.6 2118.2,749.5C2121.1,755.0 2123.1,762.6 2126.4,765.7C2128.5,767.7 2131.3,769.4 2133.5,768.8C2136.2,768.1 2138.3,763.0 2140.6,759.6C2143.1,755.9 2144.9,750.5 2147.6,747.5C2149.7,745.1 2152.5,742.3 2154.7,742.4C2156.8,742.5 2159.1,744.9 2160.8,747.5C2163.5,751.5 2165.2,759.3 2166.9,765.7C2168.7,772.7 2169.4,780.8 2171.0,788.0C2172.5,794.9 2174.4,801.7 2176.0,808.3C2177.5,814.5 2178.5,820.6 2180.1,826.5C2181.6,832.1 2183.1,838.6 2185.2,842.8C2186.7,845.8 2187.9,848.7 2190.2,849.9C2192.6,851.1 2196.8,849.0 2199.4,849.9C2201.8,850.8 2203.7,852.5 2205.4,854.9C2207.7,858.2 2208.9,863.9 2210.5,869.1C2212.4,875.2 2213.9,882.6 2215.6,889.4C2217.3,896.2 2218.9,903.1 2220.6,909.7C2222.2,915.9 2223.8,921.8 2225.7,927.9C2227.6,934.0 2230.0,940.5 2231.8,946.2C2233.4,951.1 2234.0,955.2 2236.0,960.0C2238.4,965.8 2243.1,971.7 2246.0,978.2C2249.1,985.2 2251.8,992.9 2254.1,1000.6C2256.5,1008.5 2258.3,1017.0 2260.2,1024.9C2262.0,1032.5 2263.6,1039.6 2265.2,1047.2C2266.9,1055.1 2268.7,1063.6 2270.3,1071.5C2271.8,1079.1 2272.4,1087.3 2274.4,1093.8C2276.0,1099.2 2278.3,1107.9 2280.5,1108.0C2282.4,1108.1 2284.8,1101.9 2286.5,1097.9C2288.7,1092.8 2289.8,1085.3 2291.6,1079.6C2293.2,1074.5 2295.0,1065.5 2296.7,1065.4C2298.0,1065.3 2299.6,1070.0 2300.7,1073.5C2302.5,1079.3 2303.0,1089.4 2303.8,1097.9C2304.7,1107.0 2305.2,1116.2 2305.8,1126.3C2306.5,1137.7 2307.1,1151.2 2307.8,1162.8C2308.5,1173.4 2309.2,1183.1 2309.9,1193.2C2310.6,1203.3 2311.2,1213.5 2311.9,1223.6C2312.6,1233.7 2313.2,1243.6 2313.9,1254.0C2314.7,1264.8 2315.6,1277.6 2316.5,1287.3C2317.2,1294.9 2317.2,1302.9 2318.5,1307.6C2319.2,1310.3 2320.2,1313.6 2321.2,1313.6C2322.2,1313.6 2323.7,1310.1 2324.6,1307.6C2325.9,1304.1 2326.5,1298.4 2327.3,1294.1C2328.0,1290.3 2328.2,1285.9 2329.3,1283.2C2330.0,1281.4 2331.1,1280.5 2332.0,1279.2" stroke="#0000ff" stroke-width="4.0"/>
<path d="M263.2,1426.1C265.8,1425.4 268.2,1424.2 271.0,1423.9C274.3,1423.6 278.2,1425.4 282.0,1425.0C286.3,1424.5 291.0,1421.7 295.3,1420.6C299.1,1419.6 302.9,1419.6 306.3,1418.4C309.5,1417.3 312.2,1415.8 315.2,1414.0C318.8,1411.9 323.2,1409.4 326.2,1406.2C329.1,1403.1 331.1,1399.5 332.9,1395.2C335.0,1390.1 336.0,1384.4 337.3,1377.5C339.1,1368.2 340.2,1355.4 341.7,1344.3C343.2,1333.2 344.3,1322.1 346.1,1311.1C348.0,1300.0 350.6,1289.0 352.8,1278.0C355.0,1266.9 357.2,1255.7 359.4,1244.8C361.6,1234.3 364.2,1224.5 366.0,1213.8C367.9,1202.5 369.2,1191.0 370.5,1178.5C371.9,1164.6 372.8,1147.9 373.8,1134.2C374.6,1122.4 375.0,1107.9 376.0,1101.1C376.4,1098.0 377.0,1094.4 377.5,1094.4C378.2,1094.4 379.1,1101.9 379.8,1107.7C381.1,1118.8 381.8,1139.6 382.6,1156.3C383.5,1174.1 384.0,1193.5 384.8,1211.6C385.5,1228.9 385.5,1247.7 387.1,1262.5C388.4,1274.1 390.7,1283.3 392.6,1293.4C394.4,1303.2 396.3,1312.6 398.1,1322.2C399.9,1331.8 401.4,1342.0 403.6,1350.9C405.5,1358.8 407.8,1366.7 410.3,1373.0C412.3,1378.1 413.6,1384.2 416.9,1386.3C419.8,1388.1 424.4,1387.0 428.0,1386.3C431.7,1385.6 435.5,1384.2 439.0,1381.9C443.0,1379.3 446.2,1373.9 450.1,1370.9C453.6,1368.1 457.6,1367.0 461.1,1364.2C465.0,1361.2 468.8,1357.0 472.2,1353.2C475.4,1349.6 478.5,1345.1 481.0,1342.1C482.7,1339.9 483.3,1338.1 485.5,1336.6C488.6,1334.5 495.1,1331.8 498.7,1332.1C501.4,1332.3 502.9,1334.7 505.4,1335.5C508.1,1336.3 511.3,1335.3 514.2,1336.6C518.0,1338.3 522.3,1342.6 525.3,1346.5C528.2,1350.4 529.1,1355.5 531.9,1359.8C534.9,1364.4 539.2,1369.0 543.0,1373.1C546.6,1377.0 550.2,1380.9 554.0,1384.1C557.6,1387.1 561.5,1390.0 565.1,1391.9C568.1,1393.5 570.7,1394.8 573.9,1395.2C577.3,1395.6 581.1,1394.6 585.0,1394.1C589.2,1393.5 593.8,1392.1 598.2,1391.9C602.6,1391.7 607.7,1391.6 611.5,1393.0C615.0,1394.3 617.3,1397.9 620.4,1399.6C623.2,1401.1 626.3,1403.1 629.2,1402.9C632.2,1402.7 635.8,1397.7 638.0,1398.5C640.3,1399.3 640.1,1406.8 642.5,1408.4C644.7,1409.8 648.3,1409.2 651.3,1408.4C654.9,1407.4 658.4,1403.1 662.4,1401.8C666.5,1400.5 671.5,1402.0 675.6,1400.7C679.6,1399.4 684.3,1393.4 686.7,1394.1C688.5,1394.6 688.4,1400.4 690.0,1400.7C691.9,1401.1 695.0,1396.1 697.8,1394.1C700.6,1392.1 704.1,1391.0 706.6,1388.5C709.4,1385.7 711.2,1381.9 713.2,1377.5C715.8,1371.5 718.1,1363.2 719.9,1355.4C721.9,1347.0 723.1,1338.3 724.3,1328.8C725.7,1317.9 726.3,1304.8 727.6,1293.4C728.9,1282.7 730.7,1274.0 732.0,1262.5C733.7,1248.1 735.0,1228.2 736.5,1213.8C737.7,1202.3 738.6,1189.3 740.0,1182.9C740.6,1180.0 741.1,1179.1 742.1,1176.6C743.6,1172.6 745.7,1164.3 748.7,1161.1C750.9,1158.8 754.1,1156.6 756.5,1157.2C759.4,1157.9 762.2,1163.2 764.2,1167.8C767.1,1174.4 768.4,1184.3 769.8,1194.3C771.6,1207.1 771.7,1224.7 773.1,1238.5C774.3,1250.6 775.0,1263.2 777.3,1272.6C779.0,1279.5 781.7,1284.3 783.9,1290.2C786.1,1296.1 788.3,1303.2 790.5,1307.9C792.0,1311.2 793.1,1315.8 795.0,1316.2C796.8,1316.6 799.5,1312.8 801.6,1311.2C803.5,1309.7 804.9,1307.0 807.1,1306.8C809.9,1306.6 814.5,1313.1 817.0,1312.3C819.7,1311.5 821.0,1305.7 822.5,1301.3C824.6,1295.3 824.8,1285.2 826.9,1279.2C828.4,1274.8 829.9,1271.2 832.4,1268.2C834.8,1265.4 838.4,1264.1 841.3,1261.6C844.3,1259.0 847.8,1256.3 850.1,1252.8C852.6,1249.0 854.2,1244.5 855.6,1239.5C857.3,1233.6 858.0,1227.1 858.9,1219.7C860.0,1210.4 860.4,1199.7 861.3,1188.0C862.4,1173.4 863.5,1153.7 864.8,1139.0C865.9,1126.9 867.1,1116.9 868.2,1105.9C869.3,1094.8 870.0,1080.2 871.5,1072.7C872.3,1068.7 873.3,1063.8 874.1,1063.8C875.1,1063.8 876.2,1071.4 877.0,1077.1C878.5,1086.8 879.1,1104.2 880.3,1116.9C881.4,1128.5 882.5,1139.0 883.6,1150.1C884.7,1161.2 885.9,1173.0 887.0,1183.3C888.0,1192.3 888.7,1200.0 889.8,1208.7C891.0,1218.0 891.6,1230.2 894.2,1237.3C895.9,1242.0 898.3,1244.8 900.8,1248.3C903.4,1251.8 907.1,1258.4 909.6,1258.3C911.7,1258.2 913.6,1253.7 915.1,1250.5C917.1,1246.4 917.3,1237.8 919.5,1235.1C920.7,1233.6 922.7,1232.4 923.9,1232.9C926.0,1233.8 927.0,1241.1 928.3,1246.1C930.0,1252.5 931.1,1261.5 932.7,1268.2C934.1,1273.8 935.1,1280.5 937.2,1283.6C938.4,1285.4 940.0,1287.1 941.6,1286.9C944.0,1286.6 946.1,1278.0 949.3,1277.0C952.4,1276.0 957.6,1278.5 960.3,1280.3C962.4,1281.7 963.4,1283.3 964.7,1285.8C966.7,1289.9 967.3,1297.5 969.1,1303.5C971.0,1310.0 973.4,1317.2 975.7,1323.3C977.8,1328.8 979.9,1335.3 982.3,1338.7C983.7,1340.8 985.3,1343.3 986.8,1343.1C989.0,1342.8 991.4,1336.3 993.4,1332.1C995.9,1327.0 998.2,1320.9 1000.0,1314.5C1002.0,1307.1 1003.1,1298.1 1004.4,1290.2C1005.6,1282.7 1006.1,1274.2 1007.7,1268.2C1008.9,1263.8 1010.0,1257.7 1012.1,1257.2C1014.1,1256.7 1017.0,1263.4 1019.8,1263.8C1022.5,1264.2 1026.4,1258.9 1028.6,1259.8C1031.0,1260.7 1031.6,1266.6 1033.0,1270.4C1034.6,1274.5 1035.4,1281.2 1037.5,1283.6C1038.8,1285.0 1040.6,1286.3 1041.9,1285.8C1044.2,1285.0 1045.6,1277.0 1047.4,1272.6C1049.2,1268.2 1050.8,1259.8 1052.9,1259.4C1054.3,1259.1 1055.9,1261.5 1057.3,1263.8C1059.9,1268.2 1061.7,1278.3 1063.9,1285.8C1066.2,1293.7 1068.2,1302.2 1070.5,1310.1C1072.7,1317.6 1074.8,1325.0 1077.1,1332.1C1079.3,1338.9 1080.8,1347.2 1083.8,1352.0C1086.0,1355.5 1088.8,1359.5 1091.5,1359.7C1094.0,1359.9 1096.8,1356.8 1099.2,1354.2C1102.5,1350.6 1105.5,1344.5 1108.0,1338.7C1110.8,1332.1 1112.8,1324.4 1114.6,1316.7C1116.5,1308.3 1117.6,1299.5 1119.0,1290.2C1120.6,1279.8 1122.1,1268.6 1123.4,1257.2C1124.7,1245.1 1125.6,1231.8 1126.7,1219.7C1127.7,1208.3 1128.6,1198.6 1129.6,1186.6C1130.7,1172.4 1131.8,1154.9 1133.0,1140.0C1134.1,1126.2 1135.3,1111.6 1136.5,1100.0C1137.4,1090.9 1138.3,1083.8 1139.2,1075.9C1140.1,1068.2 1141.0,1060.8 1141.9,1053.0C1142.8,1045.0 1143.8,1036.9 1144.6,1028.6C1145.4,1019.8 1145.6,1009.0 1146.6,1001.6C1147.3,996.3 1147.6,989.9 1149.3,988.1C1150.0,987.3 1151.2,987.0 1152.0,987.4C1153.4,988.1 1154.0,992.8 1155.4,994.9C1156.6,996.8 1158.0,999.4 1159.5,999.6C1160.9,999.8 1163.0,998.0 1164.2,996.2C1166.1,993.4 1166.5,986.9 1167.6,982.7C1168.6,978.9 1169.4,976.0 1170.3,971.9C1171.4,966.5 1172.1,958.2 1173.6,953.0C1174.7,949.2 1176.3,943.9 1177.7,943.5C1178.4,943.3 1179.1,944.0 1179.7,944.9C1181.1,947.0 1181.7,953.3 1182.4,958.4C1183.4,965.0 1183.9,974.0 1184.5,981.4C1185.0,988.3 1185.3,994.9 1185.8,1001.6C1186.4,1008.4 1187.0,1015.1 1187.8,1021.9C1188.6,1028.7 1189.6,1035.4 1190.5,1042.2C1191.4,1048.9 1192.3,1054.6 1193.2,1062.4C1194.5,1073.0 1196.3,1089.4 1197.3,1100.0C1198.0,1107.7 1198.4,1112.7 1199.0,1120.0C1199.7,1129.0 1200.1,1139.8 1201.0,1150.0C1201.9,1160.8 1200.7,1177.5 1204.4,1183.1C1206.3,1186.0 1210.2,1185.1 1212.2,1187.5C1214.7,1190.5 1214.8,1196.9 1216.6,1200.8C1218.2,1204.1 1220.4,1209.7 1222.1,1209.6C1224.1,1209.4 1226.2,1201.8 1227.6,1196.3C1229.7,1188.3 1229.9,1175.9 1231.0,1165.4C1232.1,1154.5 1233.4,1143.2 1234.3,1132.2C1235.2,1121.4 1235.0,1108.3 1236.5,1100.0C1237.5,1094.6 1238.8,1088.9 1240.5,1086.8C1241.3,1085.8 1242.3,1085.2 1243.2,1085.4C1244.6,1085.8 1245.7,1091.6 1247.3,1092.2C1248.5,1092.6 1250.3,1092.0 1251.4,1090.8C1253.4,1088.5 1253.3,1081.3 1254.1,1075.9C1255.1,1069.7 1256.0,1062.9 1256.8,1055.7C1257.8,1047.3 1258.6,1037.4 1259.5,1028.6C1260.4,1020.3 1260.7,1009.4 1262.2,1004.3C1262.9,1001.8 1264.1,998.8 1264.9,998.9C1266.0,999.0 1266.8,1005.7 1267.6,1009.7C1268.6,1014.5 1269.1,1020.9 1270.3,1025.9C1271.4,1030.3 1273.0,1038.1 1274.3,1038.1C1275.7,1038.1 1277.1,1030.1 1278.4,1025.9C1279.8,1021.5 1280.7,1012.7 1282.4,1012.4C1283.6,1012.2 1285.4,1015.8 1286.5,1017.8C1287.7,1019.9 1288.3,1024.6 1289.2,1024.6C1290.3,1024.6 1291.7,1019.1 1292.6,1015.1C1294.0,1008.5 1293.9,996.9 1294.6,988.1C1295.3,979.8 1295.2,970.5 1296.6,963.8C1297.6,959.0 1299.1,951.9 1300.7,951.6C1301.7,951.4 1303.2,953.7 1304.1,955.7C1305.7,959.6 1305.5,967.7 1306.1,974.6C1306.8,982.8 1307.2,993.3 1308.1,1001.6C1308.9,1008.9 1309.4,1015.9 1310.8,1021.9C1312.0,1026.9 1313.6,1031.9 1315.5,1035.4C1316.9,1038.0 1318.9,1041.7 1320.3,1041.5C1321.9,1041.3 1323.3,1035.5 1324.3,1031.4C1325.8,1025.4 1326.3,1016.8 1327.0,1008.4C1327.9,998.2 1328.4,985.9 1329.0,974.6C1329.6,963.3 1329.9,951.8 1330.4,940.8C1330.9,930.3 1331.4,920.9 1332.0,910.0C1332.6,897.5 1333.3,883.3 1334.0,870.0C1334.7,856.7 1335.3,843.3 1336.0,830.0C1336.7,816.7 1337.4,802.4 1338.2,790.0C1338.9,779.3 1339.8,769.3 1340.5,760.0C1341.1,751.8 1341.4,743.8 1342.0,737.0C1342.5,731.5 1342.5,725.7 1343.6,722.0C1344.3,719.6 1345.4,716.5 1346.3,716.5C1347.3,716.5 1348.5,720.9 1349.3,724.0C1350.4,728.6 1350.5,735.6 1351.0,742.0C1351.6,749.2 1352.0,757.2 1352.5,765.0C1353.0,773.2 1353.3,780.0 1353.9,790.0C1354.7,805.2 1355.9,831.1 1357.0,847.5C1357.8,859.9 1358.5,870.4 1359.5,880.0C1360.3,887.6 1361.3,893.5 1362.2,900.3C1363.1,907.0 1363.3,914.5 1364.9,920.5C1366.2,925.6 1368.9,929.0 1370.3,934.1C1372.0,940.4 1372.7,948.2 1373.6,955.7C1374.6,963.9 1375.1,972.2 1375.7,981.4C1376.4,991.9 1377.0,1004.5 1377.7,1015.1C1378.3,1024.6 1379.0,1033.2 1379.7,1042.2C1380.4,1051.2 1381.1,1059.9 1381.8,1069.2C1382.5,1079.1 1382.8,1092.5 1383.8,1100.0C1384.4,1104.3 1385.0,1106.4 1385.8,1110.1C1386.7,1114.5 1387.9,1124.4 1389.1,1124.5C1390.1,1124.5 1391.3,1118.4 1392.4,1114.5C1393.9,1109.0 1395.3,1101.0 1396.8,1094.6C1398.2,1088.5 1399.5,1082.6 1401.2,1076.9C1402.8,1071.5 1405.3,1067.0 1406.8,1061.4C1408.4,1055.2 1408.7,1047.5 1410.1,1041.5C1411.2,1036.5 1412.4,1028.1 1414.1,1027.8C1415.2,1027.6 1416.7,1030.6 1417.8,1032.7C1419.2,1035.5 1419.2,1043.1 1421.1,1043.7C1422.7,1044.2 1426.2,1037.7 1427.8,1038.2C1429.8,1038.8 1430.2,1045.5 1431.1,1050.4C1432.3,1057.5 1432.8,1067.6 1433.3,1076.9C1433.9,1087.3 1433.9,1099.0 1434.4,1110.1C1435.0,1121.2 1435.9,1131.7 1436.6,1143.3C1437.4,1156.0 1437.7,1171.2 1438.8,1183.1C1439.7,1192.8 1439.3,1205.1 1442.2,1209.6C1443.6,1211.8 1446.0,1212.8 1447.7,1213.0C1449.0,1213.2 1450.2,1211.5 1451.3,1212.0C1453.1,1212.9 1454.6,1217.8 1455.7,1221.9C1457.3,1228.1 1456.9,1237.6 1457.9,1246.1C1459.0,1255.8 1458.8,1273.9 1462.3,1277.0C1463.8,1278.3 1466.3,1278.0 1467.9,1277.0C1470.3,1275.5 1471.9,1270.3 1473.4,1266.0C1475.4,1260.4 1476.1,1251.9 1477.8,1246.1C1479.1,1241.5 1480.5,1234.4 1482.2,1234.0C1483.2,1233.8 1484.6,1235.5 1485.5,1237.3C1487.4,1241.0 1487.9,1250.4 1488.8,1257.2C1489.7,1264.3 1490.3,1271.4 1491.0,1279.2C1491.8,1288.1 1492.2,1299.0 1493.2,1307.9C1494.1,1315.7 1494.8,1325.1 1496.5,1329.9C1497.4,1332.5 1498.3,1334.1 1499.8,1335.4C1501.3,1336.6 1503.7,1336.0 1505.3,1337.6C1508.0,1340.4 1507.7,1351.7 1510.8,1354.2C1512.8,1355.9 1516.5,1354.4 1518.6,1355.3C1520.4,1356.0 1521.8,1356.8 1523.0,1358.6C1525.0,1361.7 1524.6,1370.1 1526.3,1374.0C1527.5,1376.8 1529.4,1378.0 1530.7,1380.6C1532.3,1383.7 1533.5,1388.5 1535.1,1391.6C1536.4,1394.2 1538.1,1398.4 1539.5,1398.3C1541.1,1398.2 1542.6,1393.1 1543.9,1389.4C1545.8,1383.8 1546.0,1373.3 1548.3,1367.4C1550.0,1362.9 1553.0,1360.5 1554.9,1356.4C1557.1,1351.8 1558.1,1344.8 1560.4,1340.9C1562.0,1338.0 1564.1,1334.3 1566.0,1334.3C1567.8,1334.3 1570.1,1338.0 1571.5,1340.9C1573.4,1344.8 1573.6,1350.8 1574.8,1356.4C1576.2,1363.1 1577.0,1372.1 1579.2,1378.4C1580.9,1383.5 1582.7,1388.9 1585.8,1391.6C1588.4,1393.9 1592.9,1392.7 1595.7,1394.9C1599.0,1397.5 1600.9,1407.0 1603.4,1407.1C1605.6,1407.2 1608.0,1401.4 1610.0,1398.3C1612.1,1395.1 1613.4,1388.9 1615.6,1388.3C1617.2,1387.9 1619.5,1389.8 1621.1,1391.6C1623.5,1394.4 1624.3,1401.4 1626.6,1404.9C1628.5,1407.7 1631.1,1411.7 1633.2,1411.5C1635.5,1411.3 1637.4,1405.9 1639.8,1402.7C1642.8,1398.7 1647.2,1394.4 1649.7,1389.4C1652.4,1384.1 1653.3,1377.4 1655.2,1371.8C1657.0,1366.5 1658.8,1356.6 1660.8,1356.4C1662.2,1356.2 1664.0,1359.9 1665.2,1363.0C1667.3,1368.7 1667.1,1381.3 1668.5,1389.4C1669.7,1396.5 1670.3,1405.0 1672.9,1409.3C1674.6,1412.1 1677.5,1415.2 1679.5,1414.8C1682.1,1414.3 1684.1,1407.0 1686.6,1402.7C1689.4,1397.9 1692.9,1392.6 1695.4,1387.2C1698.0,1381.6 1698.8,1371.8 1702.0,1369.6C1703.9,1368.3 1706.5,1370.3 1708.7,1369.6C1711.3,1368.8 1714.3,1363.6 1716.4,1364.1C1718.7,1364.6 1720.1,1370.2 1721.9,1374.0C1724.2,1379.0 1725.6,1387.9 1728.5,1391.6C1730.4,1394.0 1732.6,1395.8 1735.1,1396.0C1738.3,1396.2 1742.6,1390.5 1746.1,1390.5C1749.2,1390.5 1752.0,1394.2 1755.0,1394.9C1757.9,1395.6 1761.0,1396.0 1763.8,1394.9C1767.3,1393.6 1770.9,1386.0 1773.7,1386.1C1775.8,1386.2 1777.3,1389.7 1779.2,1391.6C1781.3,1393.7 1783.4,1397.5 1785.8,1398.3C1787.8,1399.0 1790.5,1398.6 1792.4,1397.2C1795.2,1395.2 1797.0,1389.8 1799.0,1385.0C1801.6,1378.8 1803.1,1368.3 1805.7,1363.0C1807.4,1359.6 1809.2,1355.7 1811.2,1355.3C1812.9,1354.9 1814.9,1356.7 1816.7,1358.6C1819.8,1362.0 1822.5,1370.4 1825.5,1376.2C1828.4,1381.8 1830.9,1389.2 1834.3,1392.7C1836.6,1395.1 1839.4,1397.2 1842.0,1397.2C1844.6,1397.2 1847.3,1394.9 1849.8,1392.7C1853.0,1389.8 1855.5,1381.0 1858.6,1380.6C1861.4,1380.3 1864.0,1386.8 1867.4,1388.3C1870.7,1389.7 1875.3,1390.9 1878.4,1389.4C1882.1,1387.6 1884.0,1379.2 1887.2,1376.2C1889.6,1374.0 1892.2,1372.0 1894.9,1371.8C1897.7,1371.6 1901.2,1375.8 1903.8,1375.1C1906.4,1374.4 1907.7,1368.3 1910.4,1367.4C1913.2,1366.5 1917.2,1370.7 1920.3,1369.6C1924.3,1368.2 1928.7,1361.5 1931.3,1356.4C1933.9,1351.2 1934.2,1344.6 1935.7,1338.7C1937.2,1332.8 1937.4,1323.2 1940.1,1321.1C1941.6,1319.9 1943.9,1320.3 1945.7,1321.1C1948.3,1322.3 1950.4,1327.0 1953.4,1329.9C1956.9,1333.2 1961.7,1339.9 1965.5,1339.8C1969.0,1339.7 1972.0,1333.0 1975.4,1331.0C1978.3,1329.3 1982.0,1329.7 1984.2,1327.7C1986.4,1325.7 1986.9,1322.0 1988.6,1318.9C1990.5,1315.4 1992.3,1309.2 1995.3,1307.9C1998.0,1306.8 2002.1,1310.4 2005.2,1310.1C2008.0,1309.8 2010.5,1308.7 2012.9,1306.8C2016.1,1304.4 2018.8,1298.6 2021.7,1295.7C2023.9,1293.4 2026.5,1292.5 2028.3,1290.2C2030.2,1287.8 2030.6,1283.0 2032.7,1281.4C2034.5,1280.1 2037.4,1279.4 2039.4,1280.3C2042.1,1281.6 2043.2,1288.5 2046.0,1291.3C2048.5,1293.8 2051.8,1294.6 2054.8,1296.8C2058.3,1299.3 2062.0,1303.1 2065.8,1305.7C2069.4,1308.2 2073.2,1311.7 2076.8,1312.3C2079.7,1312.8 2082.8,1311.3 2085.4,1310.3C2087.9,1309.4 2089.8,1307.4 2092.2,1306.9C2094.7,1306.4 2097.5,1307.5 2100.3,1307.6C2103.3,1307.7 2107.1,1308.5 2109.7,1307.6C2111.9,1306.9 2113.6,1303.2 2115.1,1303.5C2116.8,1303.8 2117.7,1308.5 2119.2,1310.3C2120.4,1311.7 2122.0,1313.8 2123.2,1313.6C2124.7,1313.3 2125.6,1307.8 2127.3,1306.9C2128.5,1306.2 2130.0,1306.4 2131.4,1306.9C2133.2,1307.5 2134.9,1310.7 2136.8,1310.9C2138.6,1311.1 2140.7,1309.6 2142.2,1308.2C2144.0,1306.5 2145.1,1303.4 2146.2,1300.8C2147.3,1298.2 2148.0,1295.4 2148.9,1292.7C2149.8,1290.0 2150.1,1286.4 2151.6,1284.6C2152.8,1283.1 2154.9,1281.6 2156.4,1281.9C2158.2,1282.3 2159.4,1286.5 2161.1,1288.6C2162.8,1290.6 2164.6,1292.7 2166.5,1294.1C2168.2,1295.3 2170.2,1297.2 2171.9,1296.8C2173.9,1296.4 2175.1,1291.5 2177.3,1290.0C2179.3,1288.7 2182.2,1289.0 2184.1,1288.0C2185.7,1287.1 2186.7,1285.1 2188.1,1284.6C2189.4,1284.1 2191.1,1285.3 2192.2,1284.6C2193.5,1283.8 2194.1,1281.4 2194.9,1279.2C2196.0,1276.0 2196.2,1269.9 2197.6,1267.0C2198.5,1265.2 2199.8,1263.0 2200.9,1263.0C2202.0,1263.0 2203.4,1265.1 2204.3,1267.0C2205.7,1270.0 2205.6,1276.0 2206.4,1280.5C2207.2,1285.0 2207.9,1289.9 2209.0,1294.1C2210.0,1297.9 2211.1,1301.6 2212.4,1304.9C2213.6,1307.8 2214.7,1311.0 2216.5,1313.0C2218.0,1314.6 2220.1,1315.3 2221.9,1316.4C2223.7,1317.5 2225.6,1319.9 2227.3,1319.7C2229.2,1319.5 2230.9,1316.1 2232.7,1314.3C2234.5,1312.5 2236.5,1308.8 2238.1,1308.9C2239.6,1309.0 2241.2,1311.9 2242.2,1314.3C2243.6,1317.7 2243.5,1323.7 2244.2,1327.8C2244.8,1331.3 2245.2,1334.9 2246.2,1337.3C2246.9,1339.0 2248.0,1341.5 2248.9,1341.4C2250.0,1341.3 2251.4,1337.0 2252.3,1334.6C2253.2,1332.1 2252.9,1327.8 2254.3,1326.5C2255.3,1325.6 2257.0,1326.0 2258.4,1325.8C2259.7,1325.6 2261.2,1325.8 2262.4,1325.1C2263.8,1324.2 2264.6,1320.5 2265.8,1320.4C2266.9,1320.3 2268.3,1322.2 2269.2,1323.8C2270.6,1326.3 2270.9,1331.4 2271.9,1334.6C2272.7,1337.2 2273.4,1339.4 2274.6,1341.4C2275.7,1343.2 2277.2,1345.9 2278.6,1346.1C2279.9,1346.3 2281.8,1344.8 2282.7,1343.4C2283.8,1341.8 2283.5,1336.7 2284.3,1336.6C2285.1,1336.5 2286.5,1339.9 2287.4,1342.0C2288.5,1344.8 2288.7,1349.7 2289.8,1352.0C2290.5,1353.4 2291.5,1355.1 2292.2,1354.9C2293.5,1354.5 2293.5,1343.2 2294.5,1340.0C2295.0,1338.4 2295.7,1336.4 2296.2,1336.5C2296.9,1336.6 2297.0,1344.0 2297.6,1346.4C2298.0,1347.8 2298.6,1348.0 2298.9,1349.7C2299.8,1354.4 2298.7,1370.3 2299.5,1377.4C2300.0,1381.9 2301.1,1384.2 2301.7,1388.4C2302.5,1393.8 2301.9,1406.5 2303.3,1407.2C2303.8,1407.4 2304.5,1406.8 2305.0,1406.1C2306.1,1404.4 2306.3,1399.7 2306.7,1395.1C2307.4,1387.4 2305.5,1370.1 2307.2,1364.1C2308.0,1361.4 2309.4,1358.6 2310.5,1358.6C2311.6,1358.6 2312.4,1363.0 2313.9,1364.1C2315.2,1365.1 2317.8,1364.1 2318.8,1365.2C2319.9,1366.4 2318.8,1369.4 2319.4,1371.8C2320.2,1374.8 2322.7,1376.7 2323.8,1381.8C2326.7,1395.4 2320.1,1455.5 2324.6,1460.0C2325.5,1460.9 2327.0,1460.9 2328.0,1460.0C2331.9,1456.4 2330.7,1424.1 2332.1,1406.1" stroke="#000000" stroke-width="2.8"/>
</g>
<g stroke="#000" fill="none">
<line x1="262.0" y1="49.7" x2="262.0" y2="1440.7" stroke-width="5.2"/>
<line x1="232" y1="1438.4" x2="2336.0" y2="1438.4" stroke-width="4.6"/>
<line x1="232" y1="1438.4" x2="262.0" y2="1438.4" stroke-width="4.6"/>
<line x1="245" y1="1361.4" x2="262.0" y2="1361.4" stroke-width="4.6"/>
<line x1="232" y1="1284.4" x2="262.0" y2="1284.4" stroke-width="4.6"/>
<line x1="245" y1="1207.4" x2="262.0" y2="1207.4" stroke-width="4.6"/>
<line x1="232" y1="1130.4" x2="262.0" y2="1130.4" stroke-width="4.6"/>
<line x1="245" y1="1053.4" x2="262.0" y2="1053.4" stroke-width="4.6"/>
<line x1="232" y1="976.3" x2="262.0" y2="976.3" stroke-width="4.6"/>
<line x1="245" y1="899.3" x2="262.0" y2="899.3" stroke-width="4.6"/>
<line x1="232" y1="822.3" x2="262.0" y2="822.3" stroke-width="4.6"/>
<line x1="245" y1="745.3" x2="262.0" y2="745.3" stroke-width="4.6"/>
<line x1="232" y1="668.3" x2="262.0" y2="668.3" stroke-width="4.6"/>
<line x1="245" y1="591.3" x2="262.0" y2="591.3" stroke-width="4.6"/>
<line x1="232" y1="514.3" x2="262.0" y2="514.3" stroke-width="4.6"/>
<line x1="245" y1="437.3" x2="262.0" y2="437.3" stroke-width="4.6"/>
<line x1="232" y1="360.3" x2="262.0" y2="360.3" stroke-width="4.6"/>
<line x1="245" y1="283.2" x2="262.0" y2="283.2" stroke-width="4.6"/>
<line x1="232" y1="206.2" x2="262.0" y2="206.2" stroke-width="4.6"/>
<line x1="245" y1="129.2" x2="262.0" y2="129.2" stroke-width="4.6"/>
<line x1="232" y1="52.2" x2="262.0" y2="52.2" stroke-width="4.6"/>
<line x1="335.4" y1="1438.4" x2="335.4" y2="1467.5" stroke-width="4.8"/>
<line x1="516.4" y1="1438.4" x2="516.4" y2="1454.5" stroke-width="4.8"/>
<line x1="697.4" y1="1438.4" x2="697.4" y2="1467.5" stroke-width="4.8"/>
<line x1="878.4" y1="1438.4" x2="878.4" y2="1454.5" stroke-width="4.8"/>
<line x1="1059.3" y1="1438.4" x2="1059.3" y2="1467.5" stroke-width="4.8"/>
<line x1="1240.3" y1="1438.4" x2="1240.3" y2="1454.5" stroke-width="4.8"/>
<line x1="1421.3" y1="1438.4" x2="1421.3" y2="1467.5" stroke-width="4.8"/>
<line x1="1602.3" y1="1438.4" x2="1602.3" y2="1454.5" stroke-width="4.8"/>
<line x1="1783.3" y1="1438.4" x2="1783.3" y2="1467.5" stroke-width="4.8"/>
<line x1="1964.3" y1="1438.4" x2="1964.3" y2="1454.5" stroke-width="4.8"/>
<line x1="2145.2" y1="1438.4" x2="2145.2" y2="1467.5" stroke-width="4.8"/>
<line x1="2326.2" y1="1438.4" x2="2326.2" y2="1454.5" stroke-width="4.8"/>
</g>
<text transform="translate(214.5,1455.9) scale(1,1.055)" font-size="60.0" text-anchor="end">0.0</text>
<text transform="translate(214.5,1301.9) scale(1,1.055)" font-size="60.0" text-anchor="end">0.2</text>
<text transform="translate(214.5,1147.9) scale(1,1.055)" font-size="60.0" text-anchor="end">0.4</text>
<text transform="translate(214.5,993.8) scale(1,1.055)" font-size="60.0" text-anchor="end">0.6</text>
<text transform="translate(214.5,839.8) scale(1,1.055)" font-size="60.0" text-anchor="end">0.8</text>
<text transform="translate(214.5,685.8) scale(1,1.055)" font-size="60.0" text-anchor="end">1.0</text>
<text transform="translate(214.5,531.8) scale(1,1.055)" font-size="60.0" text-anchor="end">1.2</text>
<text transform="translate(214.5,377.8) scale(1,1.055)" font-size="60.0" text-anchor="end">1.4</text>
<text transform="translate(214.5,223.7) scale(1,1.055)" font-size="60.0" text-anchor="end">1.6</text>
<text transform="translate(214.5,69.7) scale(1,1.055)" font-size="60.0" text-anchor="end">1.8</text>
<text transform="translate(334.9,1533.6) scale(1,1.055)" font-size="60.0" text-anchor="middle">1750</text>
<text transform="translate(696.9,1533.6) scale(1,1.055)" font-size="60.0" text-anchor="middle">1500</text>
<text transform="translate(1058.8,1533.6) scale(1,1.055)" font-size="60.0" text-anchor="middle">1250</text>
<text transform="translate(1420.8,1533.6) scale(1,1.055)" font-size="60.0" text-anchor="middle">1000</text>
<text transform="translate(1782.8,1533.6) scale(1,1.055)" font-size="60.0" text-anchor="middle">750</text>
<text transform="translate(2144.7,1533.6) scale(1,1.055)" font-size="60.0" text-anchor="middle">500</text>
<text transform="translate(972.3,1661.3) scale(1,1.05)" font-size="74.6">Wavenumber (cm</text>
<text transform="translate(1559.9,1625.5) scale(0.8,1.05)" font-size="44">-1</text>
<text transform="translate(1605.4,1661.3) scale(0.8,1.05)" font-size="74.6">)</text>
<text transform="translate(68.8,1092.6) scale(1,1.016) rotate(-90)" font-size="74">Absorbance (a.u.)</text>
<line x1="776.6" y1="87.3" x2="902.6" y2="87.3" stroke="#000000" stroke-width="2.8"/>
<text transform="translate(915,105.3) scale(1,1.018)" font-size="54.4">Azithromycin</text>
<line x1="776.6" y1="154.5" x2="902.6" y2="154.5" stroke="#0000ff" stroke-width="4.6"/>
<text transform="translate(915,173.5) scale(1,1.085)" font-size="54.4">MWCNT-COOH-Azi</text>
<line x1="776.6" y1="221" x2="902.6" y2="221" stroke="#ff0000" stroke-width="3.1"/>
<text transform="translate(915,238.9) scale(1,1.005)" font-size="54.4">MWCNT-COOH-Fe<tspan font-size="33" dy="18">3</tspan><tspan dy="-18">O</tspan><tspan font-size="33" dy="18">4</tspan><tspan dy="-18">-Azi</tspan></text>
<line x1="776.6" y1="303.0" x2="902.6" y2="303.0" stroke="#008080" stroke-width="3.1"/>
<text transform="translate(915,320.6) scale(1,1.005)" font-size="54.4">MWCNT-COOH-Fe<tspan font-size="33" dy="18">3</tspan><tspan dy="-18">O</tspan><tspan font-size="33" dy="18">4</tspan><tspan dy="-18">-CuO-Azi</tspan></text>
<line x1="776.6" y1="384.9" x2="902.6" y2="384.9" stroke="#808080" stroke-width="2.8"/>
<text transform="translate(915,402.4) scale(1,1.005)" font-size="54.4">MWCNT-COOH-Fe<tspan font-size="33" dy="18">3</tspan><tspan dy="-18">O</tspan><tspan font-size="33" dy="18">4</tspan><tspan dy="-18">-NiO-Azi</tspan></text>
</svg></body></html>
